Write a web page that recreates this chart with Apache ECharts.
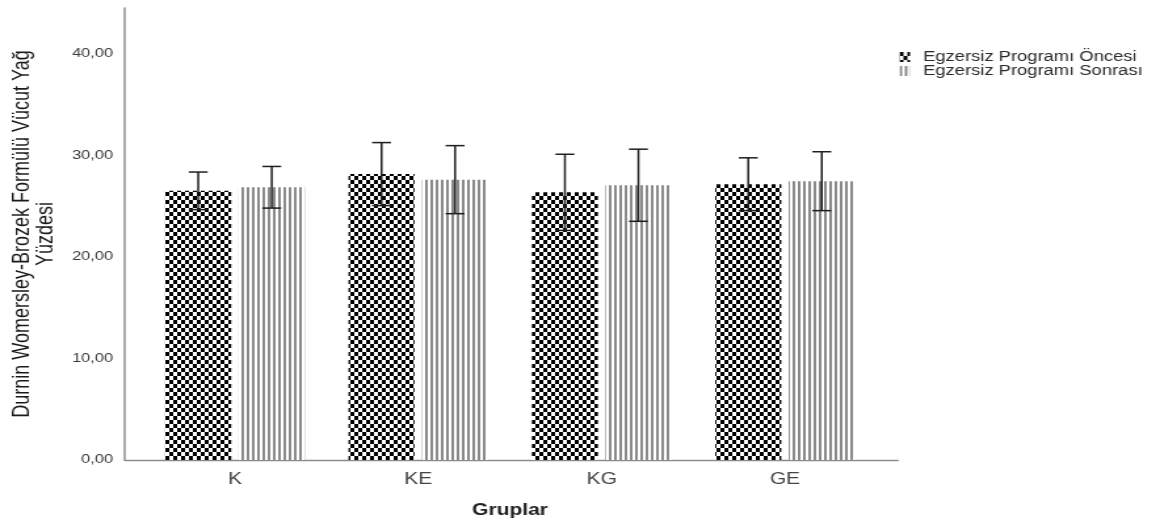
<!DOCTYPE html>
<html>
<head>
<meta charset="utf-8">
<script src="https://cdn.jsdelivr.net/npm/echarts@6/dist/echarts.min.js"></script>
<style>
  html, body { margin: 0; padding: 0; background: #fff; overflow: hidden; }
  #wrap { width: 1160px; height: 524px; overflow: hidden; }
  /* the chart is laid out narrow and widened horizontally */
  #chart { width: 884px; height: 524px; transform: scaleX(1.31222); transform-origin: 0 0; }
</style>
</head>
<body>
<div id="wrap"><div id="chart"></div></div>
<script>
// Group categories and the two measurement series (mean and error half-width)
const categories = ['K', 'KE', 'KG', 'GE'];
const seriesNames = ['Egzersiz Programı Öncesi', 'Egzersiz Programı Sonrası'];
const preMean  = [26.5, 28.15, 26.35, 27.15];
const preErr   = [1.85, 3.1, 3.75, 2.6];
const postMean = [26.85, 27.6, 27.05, 27.45];
const postErr  = [2.05, 3.35, 3.55, 2.9];
const yMax = 44.5;
const yStep = 10;

const BAR_W = 50.3;
const BAR_GAP = '11.4%';
const CAP = 7.2;

function checkerPattern() {
  const c = document.createElement('canvas');
  c.width = 6; c.height = 8;
  const g = c.getContext('2d');
  g.fillStyle = '#fff'; g.fillRect(0, 0, 6, 8);
  g.fillStyle = '#000';
  g.fillRect(0, 0, 3, 4);
  g.fillRect(3, 4, 3, 4);
  return c;
}
function stripePattern() {
  const c = document.createElement('canvas');
  c.width = 4; c.height = 4;
  const g = c.getContext('2d');
  g.fillStyle = '#fff'; g.fillRect(0, 0, 4, 4);
  g.fillStyle = '#8a8a8a'; g.fillRect(0, 0, 2, 4);
  return c;
}

const errData = [];
categories.forEach((c, i) => {
  errData.push([i, preMean[i], preErr[i], 0]);
  errData.push([i, postMean[i], postErr[i], 1]);
});

const fmt = v => v.toFixed(2).replace('.', ',');
const FONT = '"Liberation Sans", Arial, sans-serif';

const chart = echarts.init(document.getElementById('chart'), null, { renderer: 'canvas' });
chart.setOption({
  animation: false,
  backgroundColor: '#fff',
  textStyle: { fontFamily: FONT },
  legend: {
    data: seriesNames,
    orient: 'vertical',
    left: 680.5, top: 45,
    icon: 'rect',
    itemWidth: 8, itemHeight: 10, itemGap: 0,
    textStyle: { fontSize: 14, color: '#2a2a2a', lineHeight: 11, padding: [0, 0, 0, 5], fontFamily: FONT }
  },
  grid: [
    { left: 93.4, right: 199.7, top: 8, bottom: 64 },
    { left: 109.2, right: 215.9, top: 8, bottom: 64 }
  ],
  xAxis: [
    { gridIndex: 0, type: 'value', min: 0, max: 1,
      axisLine: { show: true, lineStyle: { color: '#8c8c8c', width: 1.3 } },
      axisTick: { show: false }, axisLabel: { show: false }, splitLine: { show: false } },
    { gridIndex: 1, type: 'category', data: categories,
      axisLine: { show: false }, axisTick: { show: false }, splitLine: { show: false },
      axisLabel: { fontSize: 16, color: '#444', margin: 12, fontFamily: FONT },
      name: 'Gruplar', nameLocation: 'middle', nameGap: 43,
      nameTextStyle: { fontSize: 16, fontWeight: 'bold', color: '#222', fontFamily: FONT } }
  ],
  yAxis: [
    { gridIndex: 0, type: 'value', min: 0, max: yMax, interval: yStep,
      axisLine: { show: true, lineStyle: { color: '#8c8c8c', width: 1.5 } },
      axisTick: { show: false }, splitLine: { show: false },
      axisLabel: { fontSize: 12.5, color: '#3a3a3a', margin: 9, formatter: fmt, showMaxLabel: false, fontFamily: FONT },
      name: 'Durnin Womersley-Brozek Formülü Vücut Yağ\nYüzdesi',
      nameLocation: 'middle', nameGap: 51,
      nameTextStyle: { fontSize: 18, lineHeight: 18, color: '#1a1a1a', align: 'center', fontFamily: FONT } },
    { gridIndex: 1, type: 'value', min: 0, max: yMax, show: false }
  ],
  series: [
    { name: seriesNames[0], type: 'bar', xAxisIndex: 1, yAxisIndex: 1,
      data: preMean, barWidth: BAR_W, barGap: BAR_GAP,
      itemStyle: { color: { image: checkerPattern(), repeat: 'repeat' } } },
    { name: seriesNames[1], type: 'bar', xAxisIndex: 1, yAxisIndex: 1,
      data: postMean, barWidth: BAR_W, barGap: BAR_GAP,
      itemStyle: { color: { image: stripePattern(), repeat: 'repeat' } } },
    { type: 'custom', xAxisIndex: 1, yAxisIndex: 1, z: 10,
      data: errData, encode: { x: 0, y: 1 },
      renderItem: function (params, api) {
        const i = api.value(0), m = api.value(1), e = api.value(2), s = api.value(3);
        const layout = api.barLayout({ barWidth: BAR_W, barGap: BAR_GAP, count: 2 });
        const hi = api.coord([i, m + e]);
        const lo = api.coord([i, m - e]);
        const x = hi[0] + layout[s].offsetCenter;
        const st = { stroke: '#1e1e1e', lineWidth: 1.5 };
        return { type: 'group', children: [
          { type: 'line', shape: { x1: x, y1: hi[1], x2: x, y2: lo[1] }, style: st },
          { type: 'line', shape: { x1: x - CAP, y1: hi[1], x2: x + CAP, y2: hi[1] }, style: st },
          { type: 'line', shape: { x1: x - CAP, y1: lo[1], x2: x + CAP, y2: lo[1] }, style: st }
        ] };
      } }
  ]
});
</script>
</body>
</html>
